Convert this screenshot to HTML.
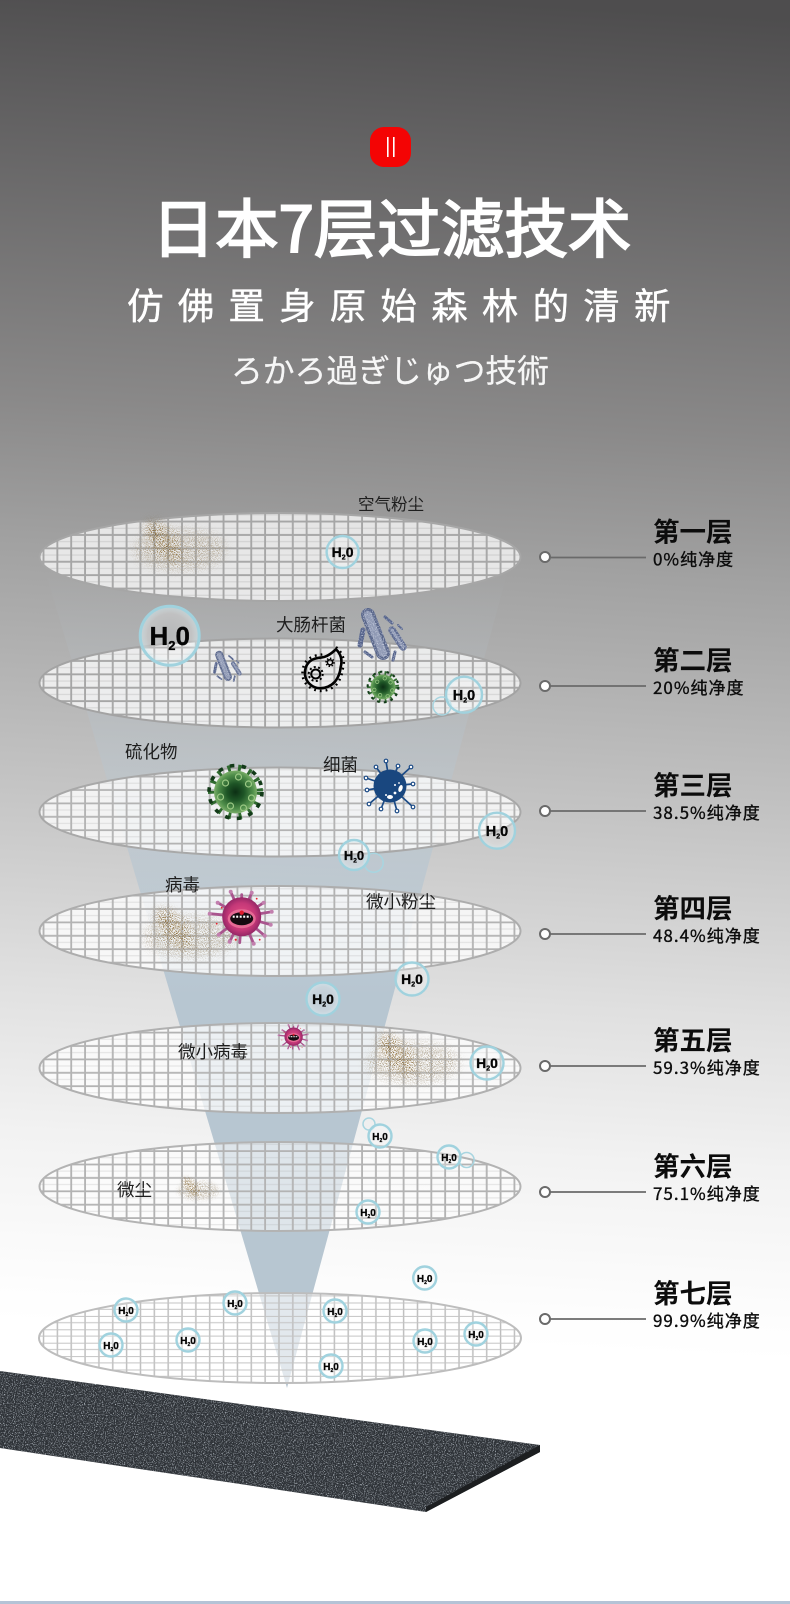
<!DOCTYPE html>
<html><head><meta charset="utf-8"><style>
html,body{margin:0;padding:0;background:#fff}
svg{display:block}
text{font-family:"Noto Sans CJK SC","Liberation Sans",sans-serif}
.l{font-size:17.5px;fill:#1e1e1e}
.t{font-size:26.5px;font-weight:700;fill:#0c0c0c}
.s{font-size:17px;fill:#0c0c0c;stroke:#0c0c0c;stroke-width:.35;letter-spacing:1px}
.h{font-family:"Liberation Sans",sans-serif;font-weight:700;fill:#050505;stroke:#050505;stroke-width:.3;text-anchor:middle}
.b{fill:url(#bub);stroke:#a0d2de;stroke-width:2.4}
.e{fill:none;stroke:#a8d5e0;stroke-width:1.5}
.c{stroke:#6a6a6a;stroke-width:1.8}
.d{fill:#fff;stroke:#6a6a6a;stroke-width:2}
</style></head><body>
<svg xmlns="http://www.w3.org/2000/svg" width="790" height="1604" viewBox="0 0 790 1604">
<defs>
<linearGradient id="bg" gradientUnits="userSpaceOnUse" x1="430" y1="0" x2="360" y2="1340">
<stop offset="0" stop-color="#4e4d4e"/><stop offset=".075" stop-color="#5d5c5d"/><stop offset=".313" stop-color="#8a8989"/><stop offset=".418" stop-color="#a1a1a1"/><stop offset=".6" stop-color="#c4c4c4"/><stop offset=".746" stop-color="#e0e0e0"/><stop offset=".858" stop-color="#f2f2f2"/><stop offset=".97" stop-color="#fdfdfd"/><stop offset="1" stop-color="#fff"/>
</linearGradient>
<linearGradient id="cone" gradientUnits="userSpaceOnUse" x1="0" y1="570" x2="0" y2="1388">
<stop offset="0" stop-color="#b7c6d1" stop-opacity="0"/><stop offset=".18" stop-color="#b7c6d1" stop-opacity=".25"/><stop offset=".36" stop-color="#b7c6d1" stop-opacity=".65"/><stop offset=".52" stop-color="#b7c6d1"/><stop offset="1" stop-color="#b7c6d1"/>
</linearGradient>
<radialGradient id="bub"><stop offset="0" stop-color="#fff" stop-opacity=".1"/><stop offset=".75" stop-color="#fff" stop-opacity=".25"/><stop offset="1" stop-color="#cfeaf0" stop-opacity=".6"/></radialGradient>
<pattern id="p1" patternUnits="userSpaceOnUse" x="1.9" y="4.7" width="13.85" height="13.4"><rect x="0" y="0" width="1" height="13.4" fill="#a6a6a6"/><rect x="12.95" y="0" width=".9" height="13.4" fill="#a6a6a6"/><rect y="0" width="13.85" height="1" fill="#a6a6a6"/><rect y="12.5" width="13.85" height=".9" fill="#a6a6a6"/><rect y="6.2" width="13.85" height="1.1" fill="#a6a6a6" opacity=".35"/></pattern>
<pattern id="p2" patternUnits="userSpaceOnUse" x="1.9" y="4.7" width="13.85" height="13.4"><rect x="0" y="0" width="1" height="13.4" fill="#b3b3b3"/><rect x="13" y="0" width=".85" height="13.4" fill="#b3b3b3"/><rect y="0" width="13.85" height="1" fill="#b3b3b3"/><rect y="12.6" width="13.85" height=".8" fill="#b3b3b3"/><rect y="6.2" width="13.85" height="1" fill="#b3b3b3" opacity=".35"/></pattern>
<pattern id="p3" patternUnits="userSpaceOnUse" x="1.9" y="4.7" width="13.85" height="13.4"><rect x="0" y="0" width=".8" height="13.4" fill="#bdbdbd"/><rect x="13.2" y="0" width=".65" height="13.4" fill="#bdbdbd"/><rect y="0" width="13.85" height="1" fill="#c4c4c4"/><rect y="6.3" width="13.85" height="1" fill="#c4c4c4"/></pattern>
<filter id="noise" x="0" y="0" width="1" height="1" color-interpolation-filters="sRGB"><feTurbulence type="fractalNoise" baseFrequency=".9" numOctaves="2" seed="3" result="t"/><feColorMatrix in="t" type="matrix" values="0 0 0 0 .72 0 0 0 0 .75 0 0 0 0 .78 3.2 0 0 0 -1.6" result="s"/><feComposite in="s" in2="SourceAlpha" operator="in" result="c"/><feMerge><feMergeNode in="SourceGraphic"/><feMergeNode in="c"/></feMerge></filter>
<filter id="noiseb" filterUnits="userSpaceOnUse" x="340" y="600" width="80" height="70" color-interpolation-filters="sRGB"><feTurbulence type="fractalNoise" baseFrequency=".9" numOctaves="2" seed="5" result="t"/><feColorMatrix in="t" type="matrix" values="0 0 0 0 .85 0 0 0 0 .87 0 0 0 0 .92 3 0 0 0 -1.5" result="s"/><feComposite in="s" in2="SourceAlpha" operator="in" result="c"/><feMerge><feMergeNode in="SourceGraphic"/><feMergeNode in="c"/></feMerge></filter>
<filter id="dustf" filterUnits="userSpaceOnUse" x="-30" y="-30" width="170" height="120" color-interpolation-filters="sRGB"><feGaussianBlur in="SourceGraphic" stdDeviation="5" result="b"/><feTurbulence type="fractalNoise" baseFrequency="1.05" numOctaves="2" seed="7" result="t"/><feColorMatrix in="t" type="matrix" values="0 0 0 0 0 0 0 0 0 0 0 0 0 0 0 9 0 0 0 -4.5" result="m"/><feComposite in="b" in2="m" operator="in"/></filter>
<g id="dust" filter="url(#dustf)"><ellipse cx="52" cy="30" rx="46" ry="20" fill="#a89a82" opacity=".8"/><ellipse cx="36" cy="22" rx="24" ry="11" transform="rotate(50 36 22)" fill="#8a6a32"/><ellipse cx="25" cy="8" rx="7" ry="6" fill="#6f4a10"/></g>
<radialGradient id="gg"><stop offset="0" stop-color="#0c2f14"/><stop offset=".4" stop-color="#1e5526"/><stop offset=".8" stop-color="#4f8e4a"/><stop offset="1" stop-color="#7bae69"/></radialGradient>
<radialGradient id="pg"><stop offset="0" stop-color="#e84f84"/><stop offset=".7" stop-color="#c43878"/><stop offset="1" stop-color="#952766"/></radialGradient>
<g id="gv"><circle r="24" fill="none" stroke="#2f6a2f" stroke-width="7" stroke-dasharray="3 7.5"/><circle r="26.500" fill="none" stroke="#123a18" stroke-width="3.6" stroke-dasharray="4.500 7.400"/><circle r="21.500" fill="url(#gg)"/><g fill="none" stroke="#9cc985" stroke-width="1.2"><circle cx="-10" cy="-9" r="3"/><circle cx="3" cy="-15" r="3"/><circle cx="13" cy="-8" r="3"/><circle cx="-15" cy="5" r="3"/><circle cx="16" cy="6" r="3"/><circle cx="-5" cy="14" r="3"/><circle cx="8" cy="16" r="3"/></g></g>
<g id="pv"><g stroke="#a9558e" stroke-width="2.8" stroke-linecap="round" fill="none"><path d="M0 0L-11-25M0 0L10-24M0 0L22-14M0 0L30-5M0 0L29 8M0 0L23 19M0 0L12 27M0 0L-2 26M0 0L-12 25M0 0L-23 18M0 0L-32-3M0 0L-24-14M0 0L0-22"/></g><g fill="#c27fae"><circle cx="-11" cy="-25" r="2"/><circle cx="10" cy="-24" r="2"/><circle cx="22" cy="-14" r="2"/><circle cx="30" cy="-5" r="2"/><circle cx="29" cy="8" r="2"/><circle cx="23" cy="19" r="2"/><circle cx="12" cy="27" r="2"/><circle cx="-12" cy="25" r="2"/><circle cx="-23" cy="18" r="2"/><circle cx="-32" cy="-3" r="2"/><circle cx="-24" cy="-14" r="2"/></g><circle r="19.500" fill="url(#pg)"/><ellipse cy="2" rx="14" ry="9.500" fill="#e56a95"/><ellipse cy="2" rx="11.500" ry="6.500" fill="#150a10"/><path d="M-9 0h18" stroke="#fff" stroke-width="2.200" stroke-dasharray="2 1.500"/><circle cy="-4" r="2.200" fill="#e01b2c"/><g fill="#e8232f"><circle cx="-20" cy="-9" r=".9"/><circle cx="15" cy="-18" r=".9"/><circle cx="-25" cy="7" r=".9"/><circle cx="-6" cy="23" r="1.100"/><circle cx="18" cy="23" r=".9"/></g></g>
<g id="bc" filter="url(#noiseb)"><g stroke-linecap="round" fill="none"><path d="M368 615L383 653" stroke="#59668a" stroke-width="14"/><path d="M368 615L383 653" stroke="#8f99b4" stroke-width="8" stroke-dasharray="2 2"/><path d="M392 630L403 647" stroke="#5d6a90" stroke-width="7.500"/><path d="M392 630L403 647" stroke="#8f99b4" stroke-width="3" stroke-dasharray="2 2"/><g stroke="#55638b" stroke-width="3"><path d="M363 630L360 645" stroke-width="5"/><path d="M385 617L392 623"/><path d="M398 625L402 629" stroke-width="2"/><path d="M365 652L372 657"/><path d="M395 652L393 660"/></g></g></g>
</defs>

<rect width="790" height="1604" fill="url(#bg)"/>
<rect y="1601" width="790" height="3" fill="#b5c3d6"/>
<polygon points="45,570 508,570 287,1388" fill="url(#cone)"/>

<rect x="370" y="127" width="41" height="40" rx="14" fill="#f40404"/>
<rect x="387" y="137" width="1.6" height="20" fill="#fff"/><rect x="393" y="137" width="1.6" height="20" fill="#fff"/>
<text x="391.5" y="252" text-anchor="middle" font-size="63.5" fill="#fff" stroke="#fff" stroke-width="1.9">日本7层过滤技术</text>
<text x="127" y="319" font-size="36.5" fill="#fff" stroke="#fff" stroke-width=".4" style="letter-spacing:14.2px">仿佛置身原始森林的清新</text>
<text x="390" y="382" text-anchor="middle" font-size="31.8" fill="#f6f6f6" stroke="#f6f6f6" stroke-width=".25" style="font-family:'Noto Sans CJK JP','Liberation Sans',sans-serif">ろかろ過ぎじゅつ技術</text>

<g transform="translate(0,557)"><ellipse cx="280" rx="240.5" ry="44" fill="#fff" fill-opacity=".74"/><ellipse cx="280" rx="240.5" ry="44" fill="url(#p1)" stroke="#a6a6a6" stroke-width="2"/></g>
<g transform="translate(0,683)"><ellipse cx="280" rx="240.5" ry="44.5" fill="#fff" fill-opacity=".74"/><ellipse cx="280" rx="240.5" ry="44.5" fill="url(#p1)" stroke="#a3a3a3" stroke-width="2"/></g>
<g transform="translate(0,812)"><ellipse cx="280" rx="240.5" ry="44.5" fill="#fff" fill-opacity=".78"/><ellipse cx="280" rx="240.5" ry="44.5" fill="url(#p2)" stroke="#a8a8a8" stroke-width="2"/></g>
<g transform="translate(0,931)"><ellipse cx="280" rx="240.5" ry="45" fill="#fff" fill-opacity=".78"/><ellipse cx="280" rx="240.5" ry="45" fill="url(#p2)" stroke="#adadad" stroke-width="2"/></g>
<g transform="translate(0,1068)"><ellipse cx="280" rx="240.5" ry="45" fill="#fff" fill-opacity=".74"/><ellipse cx="280" rx="240.5" ry="45" fill="url(#p2)" stroke="#b0b0b0" stroke-width="2"/></g>
<g transform="translate(0,1186.5)"><ellipse cx="280" rx="240.5" ry="44.5" fill="#fff" fill-opacity=".55"/><ellipse cx="280" rx="240.5" ry="44.5" fill="url(#p2)" stroke="#b3b3b3" stroke-width="2"/></g>
<g transform="translate(0,1338)"><ellipse cx="280" rx="241" ry="45" fill="#fff" fill-opacity=".6"/><ellipse cx="280" rx="241" ry="45" fill="url(#p3)" stroke="#bdbdbd" stroke-width="2"/></g>

<use href="#dust" transform="translate(128,520)"/>
<use href="#dust" transform="translate(138,907)"/>
<use href="#dust" transform="translate(361,1033)"/>
<use href="#dust" transform="translate(175,1177) scale(.45)"/>

<use href="#bc"/>
<use href="#bc" transform="translate(227,667) scale(.58) translate(-381.5,-636)"/>

<g><path d="M336 649.3C342 655 342 662 340.7 667C340 674 338 678 335 681.7C330 687 325 688.3 320 688.3C312 688 306 682 305 675C304.5 668 307 663 311.7 660C317 657 322 658 325 656.7C330 655 333 652 336 649.3Z" fill="none" stroke="#000" stroke-width="2.6"/><path d="M336 647C344 654 345 662 343 668C342 675 340 680 337 684C331 690 325 691 320 691C310 690 303 683 302.5 675C302 667 305 661 310 658C317 654 322 655 324 654" fill="none" stroke="#000" stroke-width="2.4" stroke-dasharray="1.8 4"/><circle cx="315.7" cy="674" r="4.5" fill="none" stroke="#000" stroke-width="2"/><circle cx="315.7" cy="674" r="7" fill="none" stroke="#000" stroke-width="2" stroke-dasharray="2 2.4"/><circle cx="330" cy="662.3" r="2.6" fill="none" stroke="#000" stroke-width="1.5"/><circle cx="330" cy="662.3" r="4" fill="none" stroke="#000" stroke-width="1.5" stroke-dasharray="1.5 1.6"/></g>

<use href="#gv" transform="translate(383,687) scale(.58)"/>
<use href="#gv" transform="translate(235.5,792)"/>

<g transform="translate(390,786)"><path d="M0 0L-4-25M0 0L8-20M0 0L21-19M0 0L23-2M0 0L23 21M0 0L7 25M0 0L-9 23M0 0L-21 18M0 0L-23 4M0 0L-24-8M0 0L-14-19" stroke="#1c4b86" stroke-width="1.7" fill="none"/><g fill="#fff" stroke="#1c4b86" stroke-width="1.2"><circle cx="-4" cy="-25" r="1.8"/><circle cx="8" cy="-20" r="1.8"/><circle cx="21" cy="-19" r="1.8"/><circle cx="23" cy="-2" r="1.8"/><circle cx="23" cy="21" r="1.8"/><circle cx="7" cy="25" r="1.8"/><circle cx="-9" cy="23" r="1.8"/><circle cx="-21" cy="18" r="1.8"/><circle cx="-23" cy="4" r="1.8"/><circle cx="-24" cy="-8" r="1.8"/><circle cx="-14" cy="-19" r="1.8"/></g><circle r="16.5" fill="#19477f"/><g fill="#fff"><ellipse cx="10.5" cy="2.5" rx="2" ry="3.6" transform="rotate(20 10.5 2.5)"/><ellipse cx="0" cy="11" rx="3" ry="2"/><circle cx="5" cy="7" r="1.4"/><circle cx="5" cy="-1" r="1"/><circle cx="-4" cy="9" r="1"/><circle cx="9" cy="-3" r=".9"/></g></g>

<use href="#pv" transform="translate(241.7,916.7)"/>
<use href="#pv" transform="translate(293.6,1036.7) scale(.47)"/>

<text class="l" x="358" y="510" style="font-size:16.5px">空气粉尘</text>
<text class="l" x="276" y="631">大肠杆菌</text>
<text class="l" x="125" y="758">硫化物</text>
<text class="l" x="323" y="771">细菌</text>
<text class="l" x="165" y="891">病毒</text>
<text class="l" x="366" y="908">微小粉尘</text>
<text class="l" x="178" y="1058">微小病毒</text>
<text class="l" x="117" y="1196">微尘</text>

<g><circle class="b" cx="342.6" cy="552" r="16"/><text class="h" x="342.6" y="557" font-size="14">H<tspan font-size="7" dy="2.5">2</tspan><tspan dy="-2.5">0</tspan></text></g>
<g><circle class="b" cx="169.7" cy="635.7" r="29.5" style="stroke-width:3"/><text class="h" x="169.7" y="645" font-size="26">H<tspan font-size="13" dy="5">2</tspan><tspan dy="-5">0</tspan></text></g>
<circle class="e" cx="442" cy="706" r="9"/>
<g><circle class="b" cx="464" cy="694.7" r="18"/><text class="h" x="464" y="700" font-size="14.5">H<tspan font-size="7" dy="2.5">2</tspan><tspan dy="-2.5">0</tspan></text></g>
<g><circle class="b" cx="497" cy="830.7" r="18"/><text class="h" x="497" y="836" font-size="14.5">H<tspan font-size="7" dy="2.5">2</tspan><tspan dy="-2.5">0</tspan></text></g>
<circle class="e" cx="373.7" cy="862.7" r="9.5"/>
<g><circle class="b" cx="354" cy="855" r="15"/><text class="h" x="354" y="860" font-size="13">H<tspan font-size="6.5" dy="2.5">2</tspan><tspan dy="-2.5">0</tspan></text></g>
<g><circle class="b" cx="412" cy="979" r="16.5"/><text class="h" x="412" y="984" font-size="14">H<tspan font-size="7" dy="2.5">2</tspan><tspan dy="-2.5">0</tspan></text></g>
<g><circle class="b" cx="323" cy="999" r="16.5"/><text class="h" x="323" y="1004" font-size="14">H<tspan font-size="7" dy="2.5">2</tspan><tspan dy="-2.5">0</tspan></text></g>
<g><circle class="b" cx="487" cy="1063" r="16.5"/><text class="h" x="487" y="1068" font-size="14">H<tspan font-size="7" dy="2.5">2</tspan><tspan dy="-2.5">0</tspan></text></g>
<circle class="e" cx="369" cy="1124" r="6"/>
<g><circle class="b" cx="380" cy="1136" r="11.5"/><text class="h" x="380" y="1140" font-size="10">H<tspan font-size="5" dy="2">2</tspan><tspan dy="-2">0</tspan></text></g>
<circle class="e" cx="466.6" cy="1160" r="7.5"/>
<g><circle class="b" cx="449" cy="1157" r="11.5"/><text class="h" x="449" y="1161" font-size="10">H<tspan font-size="5" dy="2">2</tspan><tspan dy="-2">0</tspan></text></g>
<g><circle class="b" cx="368" cy="1212" r="11.5"/><text class="h" x="368" y="1216" font-size="10">H<tspan font-size="5" dy="2">2</tspan><tspan dy="-2">0</tspan></text></g>
<g><circle class="b" cx="424.7" cy="1278" r="11.5"/><text class="h" x="424.7" y="1282" font-size="10">H<tspan font-size="5" dy="2">2</tspan><tspan dy="-2">0</tspan></text></g>
<g><circle class="b" cx="126" cy="1310" r="11.5"/><text class="h" x="126" y="1314" font-size="10">H<tspan font-size="5" dy="2">2</tspan><tspan dy="-2">0</tspan></text></g>
<g><circle class="b" cx="235" cy="1303" r="11.5"/><text class="h" x="235" y="1307" font-size="10">H<tspan font-size="5" dy="2">2</tspan><tspan dy="-2">0</tspan></text></g>
<g><circle class="b" cx="335" cy="1311" r="11.5"/><text class="h" x="335" y="1315" font-size="10">H<tspan font-size="5" dy="2">2</tspan><tspan dy="-2">0</tspan></text></g>
<g><circle class="b" cx="111" cy="1345" r="11.5"/><text class="h" x="111" y="1349" font-size="10">H<tspan font-size="5" dy="2">2</tspan><tspan dy="-2">0</tspan></text></g>
<g><circle class="b" cx="188" cy="1340" r="11.5"/><text class="h" x="188" y="1344" font-size="10">H<tspan font-size="5" dy="2">2</tspan><tspan dy="-2">0</tspan></text></g>
<g><circle class="b" cx="425" cy="1341" r="11.5"/><text class="h" x="425" y="1345" font-size="10">H<tspan font-size="5" dy="2">2</tspan><tspan dy="-2">0</tspan></text></g>
<g><circle class="b" cx="476" cy="1334" r="11.5"/><text class="h" x="476" y="1338" font-size="10">H<tspan font-size="5" dy="2">2</tspan><tspan dy="-2">0</tspan></text></g>
<g><circle class="b" cx="331" cy="1366" r="11.5"/><text class="h" x="331" y="1370" font-size="10">H<tspan font-size="5" dy="2">2</tspan><tspan dy="-2">0</tspan></text></g>

<polygon points="0,1371 540,1445 540,1452 426,1512 0,1448" fill="#2e3237" filter="url(#noise)"/>
<polygon points="540,1445 540,1452 426,1512 426,1507" fill="#1c1e20"/>

<g><line class="c" x1="550" x2="646" y1="557.5" y2="557.5"/><circle class="d" cx="545" cy="557" r="5"/><text class="t" x="653" y="541.5">第一层</text><text class="s" x="653" y="565.5">0%纯净度</text></g>
<g><line class="c" x1="550" x2="646" y1="686" y2="686"/><circle class="d" cx="545" cy="686" r="5"/><text class="t" x="653" y="670">第二层</text><text class="s" x="653" y="694">20%纯净度</text></g>
<g><line class="c" x1="550" x2="646" y1="811" y2="811"/><circle class="d" cx="545" cy="811" r="5"/><text class="t" x="653" y="795">第三层</text><text class="s" x="653" y="819">38.5%纯净度</text></g>
<g><line class="c" x1="550" x2="646" y1="934" y2="934"/><circle class="d" cx="545" cy="934" r="5"/><text class="t" x="653" y="918">第四层</text><text class="s" x="653" y="942">48.4%纯净度</text></g>
<g><line class="c" x1="550" x2="646" y1="1066" y2="1066"/><circle class="d" cx="545" cy="1066" r="5"/><text class="t" x="653" y="1050">第五层</text><text class="s" x="653" y="1074">59.3%纯净度</text></g>
<g><line class="c" x1="550" x2="646" y1="1192" y2="1192"/><circle class="d" cx="545" cy="1192" r="5"/><text class="t" x="653" y="1176">第六层</text><text class="s" x="653" y="1200">75.1%纯净度</text></g>
<g><line class="c" x1="550" x2="646" y1="1319" y2="1319"/><circle class="d" cx="545" cy="1319" r="5"/><text class="t" x="653" y="1303">第七层</text><text class="s" x="653" y="1327">99.9%纯净度</text></g>
</svg>
</body></html>
